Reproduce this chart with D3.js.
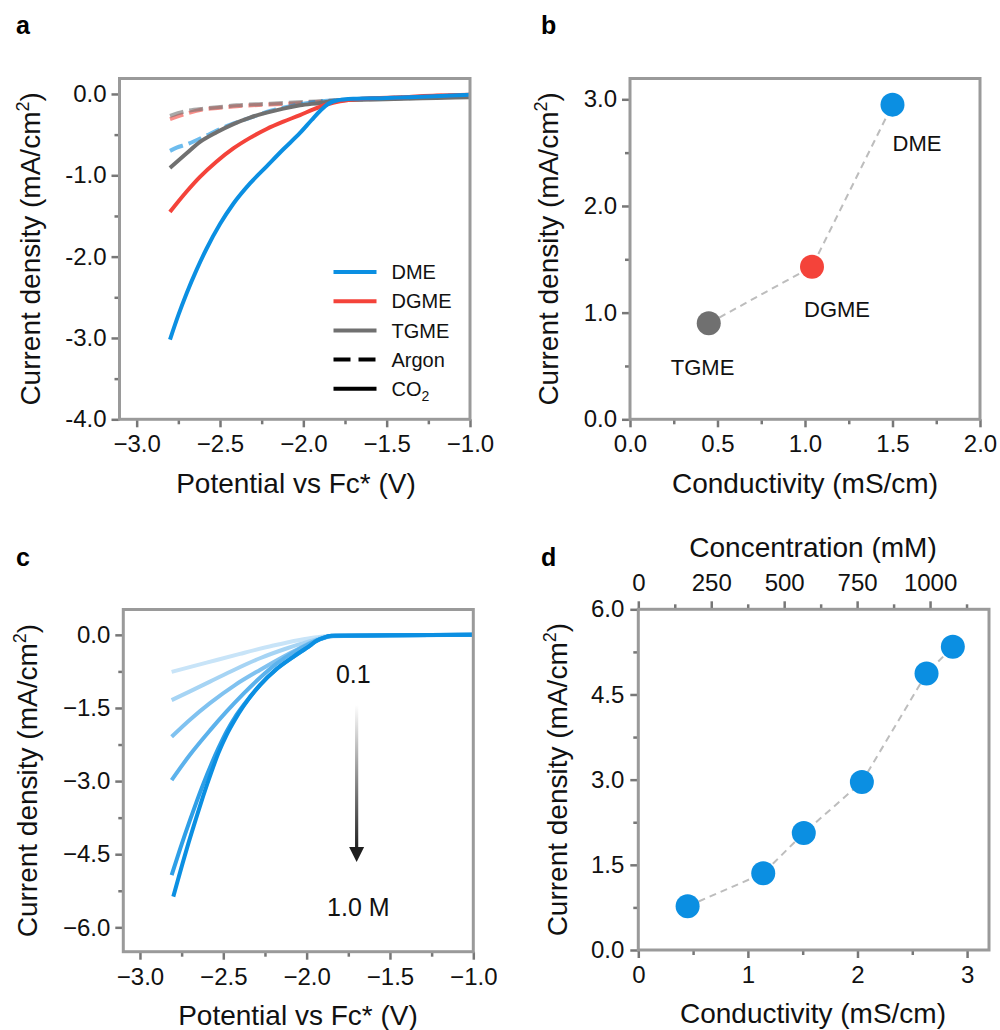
<!DOCTYPE html>
<html>
<head>
<meta charset="utf-8">
<script src="https://cdn.jsdelivr.net/npm/d3@7"></script>
<style>
  body { margin: 0; background: #fff; }
</style>
</head>
<body>
<div id="chart"></div>
<script>
// ---- data ----
// panel a: LSV curves, [potential vs Fc (V), current density (mA/cm2)]
const dmeCO2 = [[-2.80,-3.02],[-2.75,-2.72],[-2.70,-2.45],[-2.64,-2.16],[-2.58,-1.90],[-2.50,-1.60],[-2.42,-1.35],[-2.32,-1.10],[-2.22,-0.89],[-2.12,-0.68],[-2.02,-0.48],[-1.95,-0.32],[-1.90,-0.21],[-1.85,-0.12],[-1.80,-0.08],[-1.70,-0.06],[-1.50,-0.05],[-1.25,-0.03],[-1.00,-0.01]];
const dgmeCO2 = [[-2.80,-1.45],[-2.70,-1.20],[-2.62,-1.02],[-2.52,-0.83],[-2.42,-0.67],[-2.32,-0.54],[-2.22,-0.43],[-2.12,-0.34],[-2.02,-0.26],[-1.94,-0.19],[-1.86,-0.13],[-1.78,-0.09],[-1.65,-0.06],[-1.40,-0.04],[-1.20,-0.02],[-1.00,-0.01]];
const tgmeCO2 = [[-2.80,-0.91],[-2.70,-0.73],[-2.62,-0.59],[-2.52,-0.47],[-2.42,-0.37],[-2.32,-0.29],[-2.22,-0.23],[-2.12,-0.18],[-2.02,-0.14],[-1.90,-0.11],[-1.80,-0.08],[-1.65,-0.07],[-1.40,-0.06],[-1.20,-0.05],[-1.00,-0.04]];
const dmeAr = [[-2.80,-0.70],[-2.76,-0.66],[-2.70,-0.62],[-2.60,-0.53],[-2.50,-0.43],[-2.40,-0.35],[-2.30,-0.28],[-2.20,-0.21],[-2.10,-0.16],[-2.00,-0.12],[-1.90,-0.09],[-1.75,-0.07],[-1.50,-0.05],[-1.00,-0.02]];
const dgmeAr = [[-2.80,-0.31],[-2.70,-0.24],[-2.60,-0.19],[-2.50,-0.17],[-2.40,-0.15],[-2.20,-0.13],[-2.00,-0.11],[-1.80,-0.08],[-1.50,-0.05],[-1.00,-0.01]];
const tgmeAr = [[-2.80,-0.27],[-2.70,-0.21],[-2.60,-0.18],[-2.50,-0.16],[-2.40,-0.14],[-2.20,-0.12],[-2.00,-0.10],[-1.80,-0.08],[-1.50,-0.06],[-1.00,-0.03]];

// panel b: solvents
const solvents = ['TGME', 'DGME', 'DME'];
const solventCond = [0.45, 1.04, 1.50];
const solventJ = [0.90, 1.43, 2.95];

// panel c: concentration series 0.1 -> 1.0 M
const c1 = [[-2.81,-0.76],[-2.60,-0.57],[-2.40,-0.39],[-2.20,-0.22],[-2.05,-0.11],[-1.94,-0.05],[-1.85,-0.02],[-1.50,-0.01],[-1.00,0]];
const c2 = [[-2.81,-1.34],[-2.70,-1.16],[-2.58,-0.96],[-2.43,-0.71],[-2.28,-0.48],[-2.13,-0.29],[-1.98,-0.13],[-1.88,-0.04],[-1.80,-0.02],[-1.00,0]];
const c3 = [[-2.81,-2.09],[-2.70,-1.74],[-2.58,-1.40],[-2.43,-1.03],[-2.28,-0.72],[-2.14,-0.45],[-2.04,-0.27],[-1.94,-0.11],[-1.85,-0.03],[-1.00,0]];
const c4 = [[-2.81,-2.98],[-2.70,-2.46],[-2.58,-1.96],[-2.48,-1.57],[-2.38,-1.21],[-2.28,-0.88],[-2.18,-0.59],[-2.08,-0.36],[-1.98,-0.18],[-1.90,-0.07],[-1.83,-0.02],[-1.00,0]];
const c5 = [[-2.81,-4.93],[-2.76,-4.40],[-2.70,-3.80],[-2.66,-3.42],[-2.62,-3.06],[-2.57,-2.64],[-2.53,-2.33],[-2.48,-1.98],[-2.43,-1.69],[-2.38,-1.45],[-2.28,-1.03],[-2.18,-0.70],[-2.08,-0.45],[-1.98,-0.22],[-1.94,-0.12],[-1.90,-0.06],[-1.85,-0.02],[-1.50,-0.01],[-1.00,0]];
const c6 = [[-2.80,-5.37],[-2.72,-4.40],[-2.66,-3.73],[-2.62,-3.30],[-2.57,-2.80],[-2.53,-2.43],[-2.48,-2.05],[-2.43,-1.74],[-2.38,-1.47],[-2.28,-1.03],[-2.18,-0.70],[-2.08,-0.45],[-1.98,-0.22],[-1.94,-0.12],[-1.90,-0.06],[-1.85,-0.02],[-1.50,-0.01],[-1.00,0]];

// panel d: conductivity vs current density
const concCond = [0.45, 1.14, 1.51, 2.04, 2.63, 2.87];
const concJ = [0.77, 1.35, 2.06, 2.96, 4.87, 5.34];

// tick values
const xTicksV = [-3.0, -2.5, -2.0, -1.5, -1.0];
const xMinorV = [-2.75, -2.25, -1.75, -1.25];
const yTicksA = [0, -1, -2, -3, -4];
const yMinorA = [-0.5, -1.5, -2.5, -3.5];
const xTicksB = [0, 0.5, 1.0, 1.5, 2.0];
const xMinorB = [0.25, 0.75, 1.25, 1.75];
const yTicksB = [0, 1, 2, 3];
const yMinorB = [0.5, 1.5, 2.5];
const yTicksC = [0, -1.5, -3, -4.5, -6];
const yMinorC = [-0.75, -2.25, -3.75, -5.25];
const xTicksD = [0, 1, 2, 3];
const xMinorD = [0.5, 1.5, 2.5];
const yTicksD = [0, 1.5, 3, 4.5, 6];
const yMinorD = [0.75, 2.25, 3.75, 5.25];
const topTicksD = [0, 250, 500, 750, 1000];
const topMinorD = [125, 375, 625, 875, 1125];

// ---- style ----
const FONT = '"Liberation Sans", Arial, Helvetica, sans-serif';
const BLUE = '#0b8fe2', RED = '#f4433a', GREY = '#707070';
const frameColor = '#9a9a9a', tickColor = '#777';
const blues = ['#c8e4f8', '#a6d4f4', '#80c2f0', '#5cb2ec', '#2e9fe7', '#0b8fe2'];

const svg = d3.select('#chart').append('svg')
    .attr('width', 1000)
    .attr('height', 1030)
    .style('font-family', FONT);

const fmtHyphen = d => d.toFixed(1);
const fmt1 = d3.format('.1f');
const fmt0 = d3.format('d');

function scales(box, xDom, yDom) {
    return {
        x: d3.scaleLinear().domain(xDom).range([box.x0, box.x1]),
        y: d3.scaleLinear().domain(yDom).range([box.y1, box.y0])
    };
}

function axisPair(g, gen, scale, major, minor, fmt, transform, pad) {
    const mk = (vals, size, labels) => {
        const ax = gen(scale).tickValues(vals).tickSize(size).tickPadding(pad)
            .tickFormat(labels ? fmt : '');
        const ag = g.append('g').attr('transform', transform).call(ax);
        ag.select('.domain').remove();
        ag.selectAll('line').attr('stroke', tickColor).attr('stroke-width', 2.5);
        ag.selectAll('text')
            .attr('font-size', 24)
            .attr('font-family', FONT)
            .attr('fill', '#111');
    };
    mk(minor, 5, false);
    mk(major, 8, true);
}

function frame(g, box) {
    g.append('rect')
        .attr('x', box.x0).attr('y', box.y0)
        .attr('width', box.x1 - box.x0).attr('height', box.y1 - box.y0)
        .attr('fill', 'none')
        .attr('stroke', frameColor)
        .attr('stroke-width', 3);
}

function yLabel(g, x, y, text) {
    const t = g.append('text')
        .attr('transform', `translate(${x},${y}) rotate(-90)`)
        .attr('text-anchor', 'middle')
        .attr('font-size', 28)
        .attr('fill', '#111');
    t.append('tspan').text(text);
    t.append('tspan').attr('dy', -11).attr('font-size', 18).text('2');
    t.append('tspan').attr('dy', 11).text(')');
}

function xLabel(g, x, y, text) {
    g.append('text')
        .attr('x', x).attr('y', y)
        .attr('text-anchor', 'middle')
        .attr('font-size', 28)
        .attr('fill', '#111')
        .text(text);
}

function letter(g, x, y, t) {
    g.append('text').attr('x', x).attr('y', y)
        .attr('font-size', 25).attr('font-weight', 'bold')
        .attr('fill', '#000').text(t);
}

const line = (s) => d3.line()
    .x(d => s.x(d[0]))
    .y(d => s.y(d[1]))
    .curve(d3.curveMonotoneX);

// ================= panel a =================
{
    const box = {x0: 119.5, x1: 470, y0: 78.5, y1: 419.3};
    const s = scales(box, [-3.103, -1.0], [-4.0, 0.19]);
    const g = svg.append('g');

    const dashed = [[dgmeAr, RED], [tgmeAr, GREY], [dmeAr, BLUE]];
    dashed.forEach(([d, c]) => {
        g.append('path').datum(d)
            .attr('d', line(s))
            .attr('fill', 'none')
            .attr('stroke', c)
            .attr('stroke-opacity', 0.6)
            .attr('stroke-width', 4)
            .attr('stroke-dasharray', '14,6');
    });
    const solid = [[tgmeCO2, GREY], [dgmeCO2, RED], [dmeCO2, BLUE]];
    solid.forEach(([d, c]) => {
        g.append('path').datum(d)
            .attr('d', line(s))
            .attr('fill', 'none')
            .attr('stroke', c)
            .attr('stroke-width', 4);
    });

    // legend
    const legend = [
        {name: 'DME', color: BLUE, dash: null},
        {name: 'DGME', color: RED, dash: null},
        {name: 'TGME', color: GREY, dash: null},
        {name: 'Argon', color: '#000', dash: '17,8'},
        {name: 'CO', color: '#000', dash: null, sub: '2'}
    ];
    const lg = g.append('g').attr('transform', `translate(${box.x0 + 214},272)`);
    legend.forEach((l, i) => {
        lg.append('line')
            .attr('x1', 0).attr('x2', 43)
            .attr('y1', i * 29.2).attr('y2', i * 29.2)
            .attr('stroke', l.color)
            .attr('stroke-width', 4)
            .attr('stroke-dasharray', l.dash);
        const t = lg.append('text')
            .attr('x', 58).attr('y', i * 29.2)
            .attr('dy', '0.36em')
            .attr('font-size', 20)
            .attr('fill', '#111')
            .text(l.name);
        if (l.sub) t.append('tspan').attr('dy', 5).attr('font-size', 14).text(l.sub);
    });

    axisPair(g, d3.axisLeft, s.y, yTicksA, yMinorA, fmtHyphen, `translate(${box.x0},0)`, 5);
    axisPair(g, d3.axisBottom, s.x, xTicksV, xMinorV, fmt1, `translate(0,${box.y1})`, 8);
    frame(g, box);
    yLabel(g, 40, (box.y0 + box.y1) / 2, 'Current density (mA/cm');
    xLabel(g, 296, 493, 'Potential vs Fc* (V)');
    letter(g, 16, 34, 'a');
}

// ================= panel b =================
{
    const box = {x0: 630, x1: 980, y0: 78.5, y1: 419.3};
    const s = scales(box, [0, 2.0], [0, 3.195]);
    const g = svg.append('g');
    const colors = [GREY, RED, BLUE];
    const labelDx = [-38, -8, 0];
    const labelDy = [52, 50, 46];
    const pts = solvents.map((n, i) => ({n, x: solventCond[i], y: solventJ[i], c: colors[i], i}));

    g.append('path').datum(pts)
        .attr('d', d3.line().x(d => s.x(d.x)).y(d => s.y(d.y)))
        .attr('fill', 'none')
        .attr('stroke', '#bdbdbd')
        .attr('stroke-width', 2)
        .attr('stroke-dasharray', '7,5');
    g.selectAll('circle.pt').data(pts).enter().append('circle')
        .attr('cx', d => s.x(d.x))
        .attr('cy', d => s.y(d.y))
        .attr('r', 12)
        .attr('fill', d => d.c);
    g.selectAll('text.lab').data(pts).enter().append('text')
        .attr('x', d => s.x(d.x) + labelDx[d.i])
        .attr('y', d => s.y(d.y) + labelDy[d.i])
        .attr('font-size', 22)
        .attr('fill', '#111')
        .text(d => d.n);

    axisPair(g, d3.axisLeft, s.y, yTicksB, yMinorB, fmt1, `translate(${box.x0},0)`, 5);
    axisPair(g, d3.axisBottom, s.x, xTicksB, xMinorB, fmt1, `translate(0,${box.y1})`, 8);
    frame(g, box);
    yLabel(g, 558, (box.y0 + box.y1) / 2, 'Current density  (mA/cm');
    xLabel(g, 805, 493, 'Conductivity (mS/cm)');
    letter(g, 541, 34, 'b');
}

// ================= panel c =================
{
    const box = {x0: 123.3, x1: 473.3, y0: 609.5, y1: 951.7};
    const s = scales(box, [-3.1, -1.0], [-6.5, 0.52]);
    svg.append('clipPath').attr('id', 'leftcol')
        .append('rect').attr('x', 0).attr('y', 520).attr('width', 497).attr('height', 510);
    const g = svg.append('g').attr('clip-path', 'url(#leftcol)');

    [c1, c2, c3, c4, c5, c6].forEach((d, i) => {
        g.append('path').datum(d)
            .attr('d', line(s))
            .attr('fill', 'none')
            .attr('stroke', blues[i])
            .attr('stroke-width', 4);
    });

    // concentration arrow
    const grad = svg.append('defs').append('linearGradient')
        .attr('id', 'arrowGrad')
        .attr('x1', 0).attr('y1', 0).attr('x2', 0).attr('y2', 1);
    grad.append('stop').attr('offset', '0%').attr('stop-color', '#ffffff');
    grad.append('stop').attr('offset', '100%').attr('stop-color', '#1e1e1e');
    const ax = s.x(-1.70), yTop = s.y(-1.44), yEnd = s.y(-4.66);
    g.append('rect')
        .attr('x', ax - 1.6).attr('y', yTop)
        .attr('width', 3.2).attr('height', yEnd - yTop - 12)
        .attr('fill', 'url(#arrowGrad)');
    g.append('path')
        .attr('d', `M${ax - 7.5},${yEnd - 15} L${ax + 7.5},${yEnd - 15} L${ax},${yEnd} Z`)
        .attr('fill', '#1e1e1e');
    g.append('text').attr('x', s.x(-1.72)).attr('y', s.y(-0.99))
        .attr('text-anchor', 'middle').attr('font-size', 25).attr('fill', '#111').text('0.1');
    g.append('text').attr('x', s.x(-1.69)).attr('y', s.y(-5.77))
        .attr('text-anchor', 'middle').attr('font-size', 25).attr('fill', '#111').text('1.0 M');

    axisPair(g, d3.axisLeft, s.y, yTicksC, yMinorC, fmt1, `translate(${box.x0},0)`, 5);
    axisPair(g, d3.axisBottom, s.x, xTicksV, xMinorV, fmt1, `translate(0,${box.y1})`, 8);
    frame(g, box);
    yLabel(g, 37, (box.y0 + box.y1) / 2, 'Current density (mA/cm');
    xLabel(g, 298, 1025, 'Potential vs Fc* (V)');
    letter(g, 16, 566, 'c');
}

// ================= panel d =================
{
    const box = {x0: 638.3, x1: 989, y0: 609.3, y1: 950};
    const s = scales(box, [0, 3.2], [0, 6.0]);
    const top = d3.scaleLinear().domain([0, 1202]).range([box.x0, box.x1]);
    const g = svg.append('g');
    const pts = concCond.map((c, i) => ({x: c, y: concJ[i]}));

    g.append('path').datum(pts)
        .attr('d', d3.line().x(d => s.x(d.x)).y(d => s.y(d.y)))
        .attr('fill', 'none')
        .attr('stroke', '#bdbdbd')
        .attr('stroke-width', 2)
        .attr('stroke-dasharray', '7,5');
    g.selectAll('circle.pt').data(pts).enter().append('circle')
        .attr('cx', d => s.x(d.x))
        .attr('cy', d => s.y(d.y))
        .attr('r', 12)
        .attr('fill', BLUE);

    axisPair(g, d3.axisLeft, s.y, yTicksD, yMinorD, fmt1, `translate(${box.x0},0)`, 6);
    axisPair(g, d3.axisBottom, s.x, xTicksD, xMinorD, fmt0, `translate(0,${box.y1})`, 8);
    axisPair(g, d3.axisTop, top, topTicksD, topMinorD, fmt0, `translate(0,${box.y0})`, 10);
    frame(g, box);
    yLabel(g, 567, (box.y0 + box.y1) / 2, 'Current density (mA/cm');
    xLabel(g, 813, 1023, 'Conductivity (mS/cm)');
    xLabel(g, 813, 557, 'Concentration (mM)');
    letter(g, 541, 566, 'd');
}
</script>
</body>
</html>
